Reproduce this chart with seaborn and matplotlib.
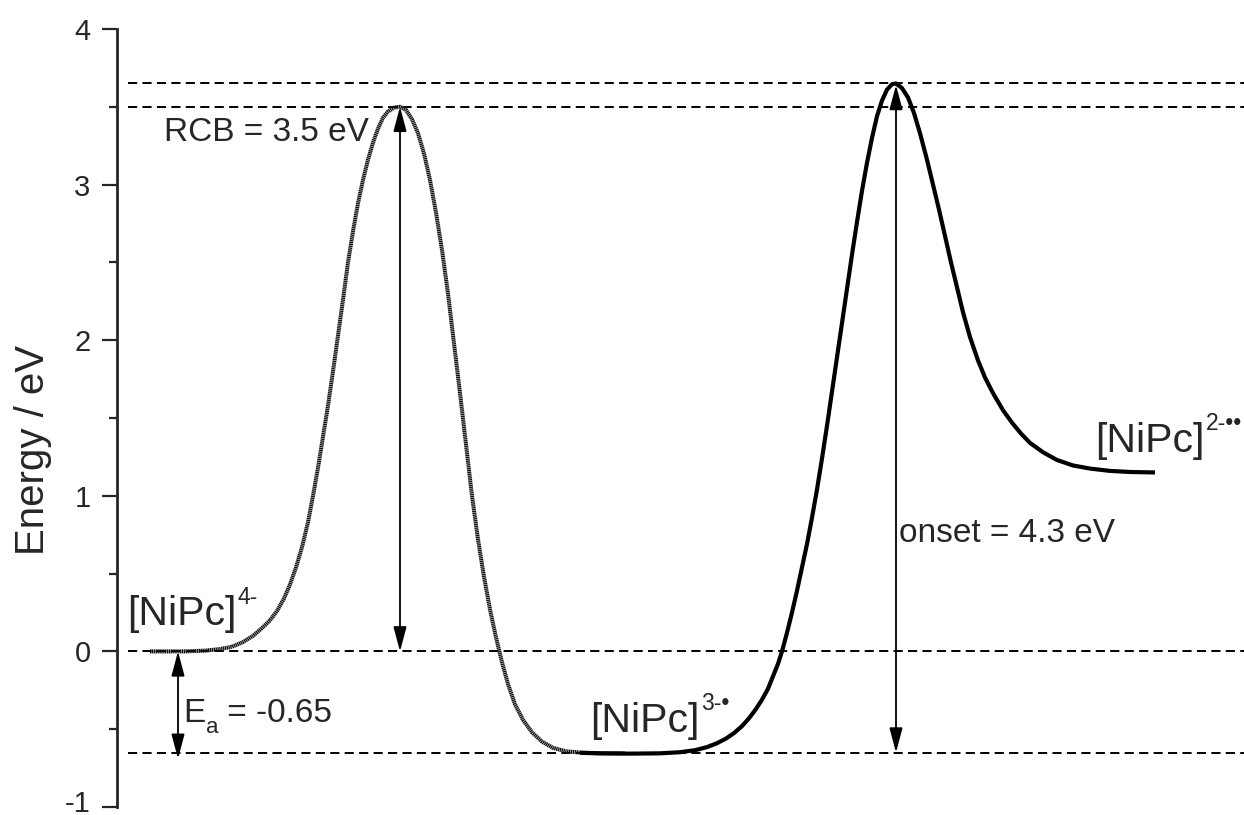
import matplotlib
matplotlib.use("Agg")
import matplotlib.pyplot as plt
import matplotlib.transforms as mtransforms
import seaborn as sns
from matplotlib.patches import ArrowStyle

# ---------------- data (reaction coordinate in arbitrary units, energy in eV) ----------------
grey_x = [150, 185, 205, 220, 232, 243, 253, 262, 270, 277, 284, 290, 296, 302, 308, 313, 318,
          323, 328, 333, 338, 343, 348, 353, 358, 363, 368, 373, 378, 383, 388, 394, 400,
          406, 412, 418, 424, 430, 436, 442, 448, 454, 460, 466, 472, 478, 484, 490, 496, 502,
          508, 515, 523, 532, 542, 553, 566, 580, 600, 625]
grey_y = [0.0, 0.0, 0.005, 0.015, 0.03, 0.06, 0.1, 0.15, 0.2, 0.26, 0.34, 0.43, 0.54, 0.67, 0.83,
          1.0, 1.18, 1.38, 1.58, 1.8, 2.03, 2.26, 2.5, 2.7, 2.88, 3.03, 3.16, 3.27, 3.36, 3.43,
          3.47, 3.495, 3.5,
          3.48, 3.42, 3.33, 3.2, 3.03, 2.82, 2.58, 2.3, 1.98, 1.66, 1.33, 1.0, 0.72, 0.48, 0.27,
          0.09, -0.07, -0.21, -0.34, -0.44, -0.52, -0.58, -0.62, -0.642, -0.65, -0.655, -0.655]

black_x = [580, 600, 630, 660, 680, 695, 707, 717, 726, 734, 742, 749, 756, 762, 768, 773, 778,
           782, 787, 792, 797, 802, 807, 812, 817, 822, 827, 832, 837, 842, 847, 852, 857, 862,
           867, 872, 877, 882, 887, 892, 896, 902, 908, 914, 920, 927, 933, 939, 945, 951, 957,
           963, 970, 978, 985, 993, 1003, 1012, 1021, 1030, 1043, 1057, 1073, 1090, 1110, 1130,
           1155]
black_y = [-0.652, -0.655, -0.657, -0.655, -0.648, -0.635, -0.615, -0.59, -0.56, -0.525, -0.48,
           -0.43, -0.37, -0.31, -0.24, -0.16, -0.08, 0.0, 0.12, 0.25, 0.39, 0.54, 0.69, 0.86,
           1.04, 1.24, 1.45, 1.67, 1.89, 2.11, 2.33, 2.55, 2.76, 2.96, 3.14, 3.3, 3.44, 3.54,
           3.61, 3.645, 3.65, 3.62, 3.56, 3.46, 3.33, 3.16, 3.0, 2.84, 2.67, 2.5, 2.34, 2.18,
           2.02, 1.87, 1.76, 1.66, 1.55, 1.47, 1.4, 1.34, 1.28, 1.23, 1.195, 1.175, 1.16, 1.153,
           1.15]

level_y = [3.65, 3.5, 0.0, -0.65]
y_ticks = [-1, 0, 1, 2, 3, 4]
y_tick_labels = ["-1", "0", "1", "2", "3", "4"]
y_minor_ticks = [-0.5, 0.5, 1.5, 2.5, 3.5]

rcb_x, rcb_lo, rcb_hi = 400, 0.0, 3.5
ea_x, ea_lo, ea_hi = 178, -0.69, 0.0
onset_x, onset_lo, onset_hi = 896, -0.65, 3.64

# ---------------- style ----------------
sns.set_style("ticks")
plt.rcParams['font.family'] = ['Liberation Sans', 'DejaVu Sans']
plt.rcParams['axes.unicode_minus'] = False
plt.rcParams['lines.scale_dashes'] = False

fig = plt.figure(figsize=(12.44, 8.15), dpi=100)
ax = fig.add_axes([117 / 1244, 1 - 807 / 815, 1 - 117 / 1244, (807 - 29) / 815])
ax.set_xlim(117, 1244)
ax.set_ylim(-1, 4)

# dashed reference levels
ax.hlines(level_y, 128, 1244, colors='black', linewidth=1.4,
          linestyles=[(0, (6.6, 3.8))], zorder=1)

# energy profile curves
sns.lineplot(x=grey_x, y=grey_y, sort=False, estimator=None, ax=ax, color='#111111',
             linewidth=2.9, linestyle=(0, (1.0, 0.35)), zorder=3)
sns.lineplot(x=black_x, y=black_y, sort=False, estimator=None, ax=ax, color='black',
             linewidth=3.0, zorder=4, solid_capstyle='butt')

# arrows
astyle = ArrowStyle('<|-|>', head_length=1.5, head_width=0.4)
for xa, lo, hi in [(rcb_x, rcb_lo, rcb_hi), (ea_x, ea_lo, ea_hi), (onset_x, onset_lo, onset_hi)]:
    ax.annotate("", xy=(xa, hi), xytext=(xa, lo),
                arrowprops=dict(arrowstyle=astyle, mutation_scale=10, shrinkA=0, shrinkB=0,
                                lw=1.3, color='black'), zorder=5)

# texts
ax.text(164, 3.28, "RCB = 3.5 eV", fontsize=24, va='baseline', ha='left')
ax.text(899, 0.70, "onset = 4.3 eV", fontsize=24, va='baseline', ha='left')

tE = ax.text(183, -0.454, "E", fontsize=24, va='baseline', ha='left')
ta = ax.annotate("a", xy=(1, 0), xycoords=tE, xytext=(0.5, -3), textcoords='offset points',
                 fontsize=16, va='baseline', ha='left')
ax.annotate(" = -0.65", xy=(1, 0), xycoords=(ta, tE), xytext=(0, 0),
            textcoords='offset points', fontsize=24, va='bottom', ha='left')

def species(x, y, sup):
    t = ax.text(x, y, "[NiPc]", fontsize=29.5, va='baseline', ha='left')
    ax.annotate(sup, xy=(1, 0), xycoords=t, xytext=(1, 21.5), textcoords='offset points',
                fontsize=16.5, va='baseline', ha='left', annotation_clip=False)

species(127, 0.167, "4-")
species(590, -0.519, "3-\u2022")
species(1095, 1.28, "2-\u2022\u2022")

# axes
for s in ['top', 'right', 'bottom']:
    ax.spines[s].set_visible(False)
ax.spines['left'].set_linewidth(2.0)
ax.set_xticks([])
ax.set_yticks(y_ticks)
ax.set_yticklabels(y_tick_labels)
ax.set_yticks(y_minor_ticks, minor=True)
ax.tick_params(axis='y', which='major', length=11, width=1.6, labelsize=21, pad=8)
ax.tick_params(axis='y', which='minor', length=5.5, width=1.6)
ax.set_ylabel("Energy / eV", fontsize=29)
ax.yaxis.set_label_coords(-0.058, 0.459)

# keep the bottom tick label fully inside the canvas
lbl = ax.get_yticklabels()[0]
lbl.set_transform(lbl.get_transform() + mtransforms.ScaledTranslation(0, 4 / 72, fig.dpi_scale_trans))

fig.savefig("out.png", dpi=100)
